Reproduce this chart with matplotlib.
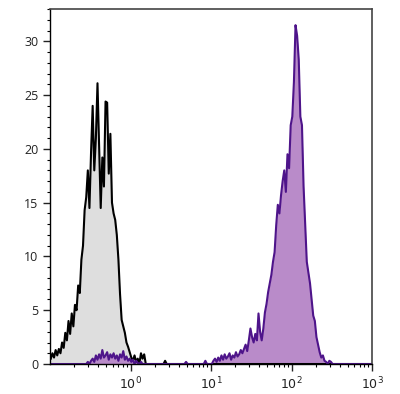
import numpy as np
import matplotlib
matplotlib.use("Agg")
import matplotlib.pyplot as plt
from matplotlib.ticker import FixedLocator, NullFormatter

plt.rcParams['font.family'] = ['Open Sans', 'DejaVu Sans']

# histogram channels: 50 per decade from 10^-1 to 10^3
edges = np.logspace(-1, 3, 201)

# isotype control (grey)
control = [
    0.5, 1.0, 0.6, 1.3, 0.8, 1.4, 1.0, 2.0, 1.5, 2.9,
    2.2, 4.0, 2.8, 4.7, 3.5, 5.5, 5.0, 7.3, 6.6, 9.7,
    11.0, 14.3, 15.5, 18.0, 14.5, 19.7, 24.0, 18.0, 21.0, 26.1,
    20.4, 14.5, 19.2, 16.5, 24.4, 24.3, 17.7, 21.4, 15.0, 14.0,
    13.4, 12.0, 9.7, 6.5, 4.1, 3.5, 2.9, 2.0, 1.6, 1.1,
    0.6, 0.3, 0.8, 0.2, 0.5, 0.0, 1.0, 0.5, 0.9, 0.0,
    0, 0, 0, 0, 0, 0, 0, 0, 0, 0,
    0, 0.3, 0, 0, 0, 0, 0, 0, 0, 0,
    0, 0, 0, 0, 0, 0, 0, 0, 0, 0,
    0, 0, 0, 0, 0, 0, 0, 0, 0, 0,
    0, 0, 0, 0, 0, 0, 0, 0, 0, 0,
    0, 0, 0, 0, 0, 0, 0, 0, 0, 0,
    0, 0, 0, 0, 0, 0, 0, 0, 0, 0,
    0, 0, 0, 0, 0, 0, 0, 0, 0, 0,
    0, 0, 0, 0, 0, 0, 0, 0, 0, 0,
    0, 0, 0, 0, 0, 0, 0, 0, 0, 0,
    0, 0, 0, 0, 0, 0, 0, 0, 0, 0,
    0, 0, 0, 0, 0, 0, 0, 0, 0, 0,
    0, 0, 0, 0, 0, 0, 0, 0, 0, 0,
    0, 0, 0, 0, 0, 0, 0, 0, 0, 0,
]

# stained sample (purple)
stained = [
    0, 0, 0, 0, 0, 0, 0, 0, 0, 0,
    0, 0, 0, 0, 0, 0, 0, 0, 0, 0,
    0, 0, 0, 0.2, 0, 0.3, 0.5, 0.2, 0.8, 0.4,
    0.9, 0.5, 1.3, 0.6, 0.8, 1.1, 0.4, 0.9, 0.6, 1.0,
    0.5, 0.8, 0.3, 0.9, 0.6, 1.2, 0.4, 0.7, 0.3, 0.5,
    0.2, 0.4, 0.0, 0.3, 0.1, 0.0, 0.2, 0, 0, 0,
    0, 0, 0, 0, 0, 0, 0, 0, 0, 0,
    0, 0, 0, 0, 0, 0, 0, 0, 0, 0,
    0, 0, 0, 0, 0.2, 0, 0, 0, 0, 0,
    0, 0, 0, 0, 0, 0, 0.3, 0, 0, 0,
    0.0, 0.3, 0.5, 0.2, 0.6, 0.3, 0.8, 0.4, 0.9, 0.5,
    0.7, 1.0, 0.4, 0.8, 0.6, 1.1, 0.7, 0.9, 1.3, 1.0,
    1.4, 1.8, 1.2, 2.2, 3.3, 2.5, 2.0, 2.8, 2.2, 4.7,
    3.0, 2.2, 3.3, 4.8, 5.6, 6.7, 7.5, 8.3, 9.5, 10.4,
    12.9, 14.8, 14.0, 15.7, 17.0, 18.0, 16.0, 19.5, 18.2, 22.2,
    23.0, 26.2, 31.5, 30.5, 28.3, 23.0, 22.2, 16.5, 13.0, 9.5,
    8.5, 7.5, 6.0, 4.5, 4.0, 2.5, 1.8, 1.1, 0.6, 0.8,
    0.3, 0.2, 0, 0.3, 0.2, 0, 0, 0, 0, 0,
    0, 0, 0, 0, 0, 0, 0, 0, 0, 0,
    0, 0, 0, 0, 0, 0, 0, 0, 0, 0,
]

centers = np.sqrt(edges[:-1] * edges[1:])

fig = plt.figure(figsize=(4.0, 3.94), dpi=100)
ax = fig.add_axes([0.125, 0.0761, 0.805, 0.901])

ax.fill_between(centers, control, 0, color='#dedede', lw=0)
ax.plot(centers, control, color='black', lw=1.5)
ax.fill_between(centers, stained, 0, color='#b98bc9', lw=0)
ax.plot(centers, stained, color='#4e148a', lw=1.5)

ax.set_xscale('log')
ax.set_xlim(0.1, 1000)
ax.set_ylim(0, 33)

ax.xaxis.set_major_locator(FixedLocator([1, 10, 100, 1000]))
minors = [m * 10.0 ** d for d in range(-1, 3) for m in range(2, 10)]
ax.xaxis.set_minor_locator(FixedLocator(minors))
ax.xaxis.set_minor_formatter(NullFormatter())
ax.set_xticklabels([r'$10^0$', r'$10^1$', r'$10^2$', r'$10^3$'])

ax.set_yticks([0, 5, 10, 15, 20, 25, 30])
ax.yaxis.set_minor_locator(FixedLocator(list(range(0, 34))))

ax.tick_params(which='major', direction='out', length=5, width=1,
               labelsize=9, colors='#222222')
ax.tick_params(which='minor', direction='out', length=2.5, width=0.8)

for side in ['left', 'bottom']:
    ax.spines[side].set_color('black')
    ax.spines[side].set_linewidth(1.0)
for side in ['top', 'right']:
    ax.spines[side].set_color('#444444')
    ax.spines[side].set_linewidth(1.2)

fig.savefig('out.png', dpi=100)
